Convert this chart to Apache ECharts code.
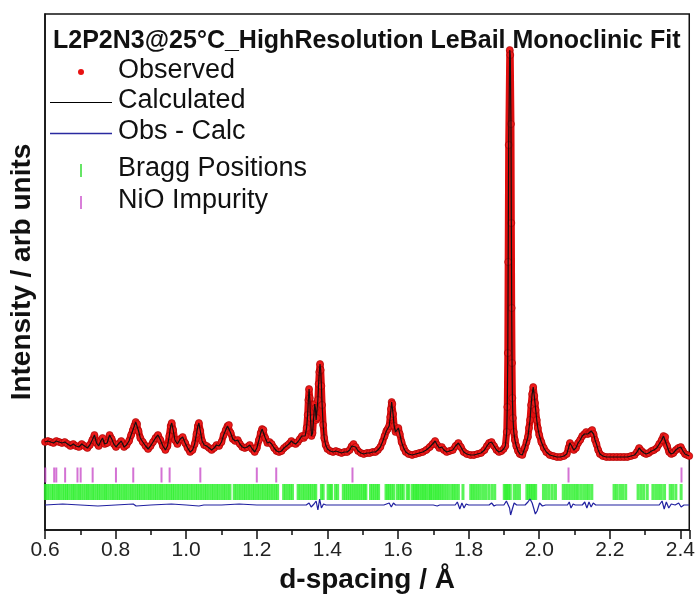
<!DOCTYPE html>
<html>
<head>
<meta charset="utf-8">
<script src="https://cdn.jsdelivr.net/npm/echarts@6/dist/echarts.min.js"></script>
<style>
html, body { margin: 0; padding: 0; background: #fff; }
#main { width: 698px; height: 601px; }
</style>
</head>
<body>
<div id="main"></div>
<script>
// observed profile: [d-spacing (A), intensity (arb)]
var observed = [
[0.600,88],[0.608,89],[0.616,88],[0.624,87],[0.632,89],[0.640,88],[0.648,87],[0.656,88],[0.664,86],[0.672,84],
[0.680,86],[0.688,84],[0.696,83],[0.704,86],[0.712,84],[0.720,82],[0.727,85],[0.734,90],[0.740,95],[0.746,87],
[0.752,84],[0.758,89],[0.763,92],[0.769,86],[0.776,87],[0.783,95],[0.789,91],[0.795,86],[0.801,83],[0.808,86],
[0.816,89],[0.824,83],[0.831,85],[0.838,89],[0.844,95],[0.849,100],[0.853,104],[0.857,108],[0.861,106],[0.865,99],
[0.870,92],[0.877,88],[0.885,84],[0.892,81],[0.899,84],[0.906,88],[0.913,92],[0.920,95],[0.927,90],[0.934,84],
[0.941,80],[0.947,84],[0.952,94],[0.956,104],[0.959,107],[0.963,100],[0.968,90],[0.975,86],[0.983,91],[0.990,93],
[0.997,87],[1.004,82],[1.011,78],[1.018,80],[1.024,86],[1.029,96],[1.033,104],[1.036,107],[1.040,99],[1.045,89],
[1.051,85],[1.058,84],[1.065,82],[1.072,80],[1.079,82],[1.086,85],[1.093,84],[1.100,88],[1.106,95],[1.112,100],
[1.117,104],[1.121,105],[1.126,97],[1.132,91],[1.139,89],[1.146,90],[1.152,86],[1.159,83],[1.166,82],[1.173,83],
[1.180,85],[1.187,81],[1.194,78],[1.200,82],[1.206,90],[1.211,97],[1.215,101],[1.219,100],[1.224,92],[1.230,87],
[1.236,88],[1.242,86],[1.249,82],[1.256,79],[1.263,78],[1.270,79],[1.277,82],[1.284,84],[1.291,86],[1.298,89],
[1.304,87],[1.310,86],[1.316,88],[1.322,91],[1.328,94],[1.333,92],[1.337,94],[1.341,102],[1.344,115],[1.346,130],
[1.348,141],[1.350,132],[1.352,112],[1.355,94],[1.358,97],[1.361,112],[1.364,126],[1.366,122],[1.368,110],[1.370,112],
[1.373,130],[1.375,146],[1.377,158],[1.379,166],[1.381,160],[1.383,144],[1.385,125],[1.388,105],[1.391,92],[1.395,85],
[1.400,81],[1.408,79],[1.416,78],[1.424,79],[1.432,78],[1.440,77],[1.448,78],[1.456,78],[1.463,80],[1.469,84],
[1.474,86],[1.480,83],[1.487,79],[1.495,77],[1.503,76],[1.512,77],[1.520,77],[1.528,78],[1.536,78],[1.543,80],
[1.550,83],[1.556,88],[1.562,94],[1.567,99],[1.571,101],[1.575,104],[1.578,113],[1.580,121],[1.582,128],[1.584,126],
[1.586,116],[1.589,104],[1.593,98],[1.597,100],[1.601,102],[1.605,96],[1.610,88],[1.616,82],[1.622,78],[1.630,76],
[1.640,75],[1.650,76],[1.660,77],[1.670,78],[1.680,80],[1.690,83],[1.698,86],[1.705,89],[1.711,85],[1.717,82],
[1.724,83],[1.730,80],[1.738,78],[1.746,79],[1.755,80],[1.763,84],[1.771,87],[1.778,83],[1.786,78],[1.795,76],
[1.805,75],[1.815,75],[1.825,76],[1.835,77],[1.845,80],[1.852,84],[1.858,87],[1.865,88],[1.872,84],[1.879,80],
[1.886,78],[1.893,79],[1.899,81],[1.904,84],[1.908,98],[1.9095,123],[1.911,177],[1.912,268],[1.9135,385],[1.9165,480],
[1.918,475],[1.920,406],[1.921,307],[1.922,222],[1.923,167],[1.924,132],[1.9255,112],[1.928,98],[1.931,90],[1.935,84],
[1.940,79],[1.945,76],[1.952,75],[1.959,82],[1.964,88],[1.968,93],[1.971,102],[1.974,110],[1.977,125],[1.980,136],
[1.983,143],[1.986,134],[1.988,127],[1.990,120],[1.993,110],[1.996,102],[2.000,95],[2.006,88],[2.013,82],[2.020,78],
[2.030,75],[2.040,74],[2.050,73],[2.060,73],[2.070,74],[2.078,76],[2.083,82],[2.087,87],[2.092,84],[2.098,80],
[2.104,82],[2.110,87],[2.116,90],[2.122,94],[2.128,96],[2.133,98],[2.138,96],[2.143,97],[2.147,99],[2.150,100],
[2.154,96],[2.158,90],[2.162,86],[2.167,80],[2.172,76],[2.180,74],[2.190,73],[2.200,73],[2.210,73],[2.220,73],
[2.230,73],[2.240,73],[2.250,73],[2.260,74],[2.270,75],[2.277,78],[2.283,82],[2.290,79],[2.297,77],[2.303,76],
[2.310,77],[2.318,79],[2.325,80],[2.333,82],[2.340,86],[2.347,90],[2.352,94],[2.357,93],[2.362,84],[2.368,78],
[2.374,76],[2.380,77],[2.387,80],[2.394,82],[2.401,83],[2.407,79],[2.413,76],[2.419,75],[2.425,74]
];

// calculated profile sits on top of the observed points
var calculated = observed;

// difference curve (offset below the tick rows)
var difference = [
[0.600,25],[0.650,26],[0.700,25],[0.750,24],[0.800,25],[0.850,26],[0.858,24],[0.900,25],[0.958,26],[1.000,25],
[1.036,24],[1.050,25],[1.100,25],[1.150,26],[1.200,25],[1.250,25],[1.300,25],[1.340,25],[1.348,27],[1.354,23],
[1.362,26],[1.368,29],[1.373,20],[1.378,31],[1.383,22],[1.389,26],[1.396,25],[1.450,25],[1.500,25],[1.560,25],
[1.575,27],[1.581,23],[1.587,27],[1.593,25],[1.650,25],[1.700,25],[1.705,27],[1.711,24],[1.718,25],[1.762,25],
[1.768,28],[1.775,21],[1.781,27],[1.787,22],[1.793,26],[1.800,25],[1.858,25],[1.865,27],[1.872,24],[1.878,25],
[1.900,25],[1.907,29],[1.912,31],[1.916,22],[1.919,15],[1.923,20],[1.929,27],[1.936,25],[1.960,25],[1.968,28],
[1.974,31],[1.980,27],[1.985,21],[1.989,16],[1.994,19],[2.001,27],[2.009,24],[2.018,25],[2.050,25],[2.080,25],
[2.085,28],[2.090,22],[2.096,26],[2.102,25],[2.122,25],[2.129,28],[2.135,22],[2.141,28],[2.147,23],[2.153,27],
[2.160,25],[2.200,25],[2.250,25],[2.300,25],[2.340,25],[2.348,29],[2.354,21],[2.360,28],[2.367,22],[2.374,26],
[2.385,25],[2.395,27],[2.402,23],[2.410,25],[2.425,25]
];

// reflection positions (d-spacing)
var braggD = [
0.601,0.606,0.612,0.619,0.624,0.631,0.637,0.642,0.649,0.655,0.661,0.666,0.673,0.679,0.684,0.691,0.697,0.702,0.709,0.716,
0.721,0.727,0.734,0.739,0.746,0.752,0.758,0.765,0.771,0.776,0.783,0.790,0.795,0.802,0.808,0.814,0.821,0.827,0.833,0.840,
0.846,0.852,0.859,0.865,0.871,0.878,0.884,0.891,0.897,0.903,0.910,0.916,0.923,0.929,0.935,0.942,0.948,0.955,0.961,0.967,
0.974,0.980,0.987,0.993,1.000,1.006,1.013,1.019,1.026,1.032,1.039,1.045,1.052,1.058,1.065,1.072,1.078,1.085,1.091,1.098,
1.105,1.111,1.118,1.124,1.136,1.142,1.149,1.155,1.162,1.168,1.175,1.181,1.188,1.194,1.201,1.207,1.214,1.220,1.227,1.233,
1.240,1.246,1.253,1.259,1.276,1.282,1.289,1.295,1.301,1.317,1.323,1.330,1.336,1.343,1.349,1.355,1.362,1.367,1.383,1.388,
1.402,1.408,1.412,1.423,1.429,1.445,1.451,1.457,1.463,1.469,1.475,1.481,1.487,1.493,1.499,1.505,1.509,1.522,1.528,1.534,
1.540,1.545,1.566,1.571,1.576,1.582,1.588,1.598,1.604,1.610,1.615,1.626,1.631,1.641,1.646,1.651,1.655,1.660,1.666,1.671,
1.676,1.681,1.688,1.692,1.697,1.703,1.708,1.713,1.718,1.724,1.730,1.737,1.744,1.752,1.758,1.764,1.771,1.784,1.806,1.812,
1.818,1.825,1.832,1.840,1.848,1.857,1.866,1.874,1.901,1.905,1.909,1.913,1.918,1.929,1.936,1.944,1.965,1.970,1.975,1.980,
1.985,1.990,2.012,2.020,2.028,2.037,2.046,2.068,2.075,2.082,2.089,2.097,2.104,2.110,2.118,2.126,2.134,2.141,2.149,2.212,
2.219,2.228,2.236,2.245,2.280,2.288,2.296,2.306,2.322,2.330,2.338,2.346,2.355,2.371,2.378,2.387,2.402
];
var nioD = [0.601,0.626,0.632,0.657,0.692,0.701,0.735,0.801,0.850,0.930,0.953,1.040,1.200,1.255,1.471,2.083,2.403];

var braggRowY = 38;
var nioRowY = 55;

var font = "'Liberation Sans', Arial, sans-serif";

var chart = echarts.init(document.getElementById('main'), null, {renderer: 'canvas'});

var option = {
  animation: false,
  backgroundColor: '#fff',
  textStyle: {fontFamily: font},
  title: {
    text: 'L2P2N3@25\u00b0C_HighResolution LeBail Monoclinic Fit',
    left: 48, top: 24,
    textStyle: {fontFamily: font, fontSize: 25, fontWeight: 'bold', color: '#111'}
  },
  grid: {
    left: 43, right: 8, top: 14, bottom: 71,
    show: true, borderColor: '#111', borderWidth: 1.5, backgroundColor: 'transparent'
  },
  xAxis: {
    type: 'value',
    min: 0.6, max: 2.425, interval: 0.2,
    name: 'd-spacing / \u00c5',
    nameLocation: 'middle', nameGap: 36,
    nameTextStyle: {fontFamily: font, fontSize: 28, fontWeight: 'bold', color: '#111'},
    axisLine: {lineStyle: {color: '#111', width: 1.5}},
    axisTick: {length: 9, lineStyle: {color: '#111', width: 1.5}},
    minorTick: {show: true, splitNumber: 2, length: 5, lineStyle: {color: '#111', width: 1.5}},
    splitLine: {show: false},
    axisLabel: {
      fontFamily: font, fontSize: 21, color: '#222', margin: 10,
      showMaxLabel: false,
      formatter: function (v) { return v.toFixed(1); }
    }
  },
  yAxis: {
    type: 'value',
    min: 0, max: 516,
    name: 'Intensity / arb units',
    nameLocation: 'middle', nameGap: 9,
    nameTextStyle: {fontFamily: font, fontSize: 28, fontWeight: 'bold', color: '#111'},
    axisLine: {show: true, lineStyle: {color: '#111', width: 1.5}},
    axisTick: {show: false},
    axisLabel: {show: false},
    splitLine: {show: false}
  },
  graphic: [
    {type: 'circle', shape: {cx: 81, cy: 72, r: 3}, style: {fill: '#e81212'}},
    {type: 'line', shape: {x1: 50, y1: 102.5, x2: 112, y2: 102.5}, style: {stroke: '#000', lineWidth: 1}},
    {type: 'line', shape: {x1: 50, y1: 133.5, x2: 112, y2: 133.5}, style: {stroke: '#2a2aa0', lineWidth: 1.4}},
    {type: 'line', shape: {x1: 81, y1: 164, x2: 81, y2: 177}, style: {stroke: '#33dd33', lineWidth: 1.5}},
    {type: 'line', shape: {x1: 81, y1: 196, x2: 81, y2: 209}, style: {stroke: '#cc55cc', lineWidth: 1.5}},
    {type: 'text', left: 118, top: 57, style: {text: 'Observed', font: '27px ' + font, fill: '#111'}},
    {type: 'text', left: 118, top: 87, style: {text: 'Calculated', font: '27px ' + font, fill: '#111'}},
    {type: 'text', left: 118, top: 118, style: {text: 'Obs - Calc', font: '27px ' + font, fill: '#111'}},
    {type: 'text', left: 118, top: 155, style: {text: 'Bragg Positions', font: '27px ' + font, fill: '#111'}},
    {type: 'text', left: 118, top: 187, style: {text: 'NiO Impurity', font: '27px ' + font, fill: '#111'}}
  ],
  series: [
    {
      name: 'Bragg Positions', type: 'scatter',
      symbol: 'rect', symbolSize: [3, 16],
      itemStyle: {color: '#2ef02e'},
      data: braggD.map(function (d) { return [d, braggRowY]; }),
      z: 2
    },
    {
      name: 'NiO Impurity', type: 'scatter',
      symbol: 'rect', symbolSize: [2, 15],
      itemStyle: {color: '#c94fc9'},
      data: nioD.map(function (d) { return [d, nioRowY]; }),
      z: 2
    },
    {
      name: 'Obs - Calc', type: 'line',
      data: difference, showSymbol: false,
      lineStyle: {color: '#2020a0', width: 1.2},
      z: 3
    },
    {
      name: 'Observed', type: 'line',
      data: observed,
      symbol: 'circle', symbolSize: 7, showSymbol: true, showAllSymbol: true,
      itemStyle: {color: '#ec1a1a', borderColor: '#a00000', borderWidth: 0.6},
      lineStyle: {color: '#e00e0e', width: 7},
      z: 4
    },
    {
      name: 'Calculated', type: 'line',
      data: calculated, showSymbol: false,
      lineStyle: {color: '#111', width: 1.2},
      z: 5
    }
  ]
};

chart.setOption(option);
</script>
</body>
</html>
